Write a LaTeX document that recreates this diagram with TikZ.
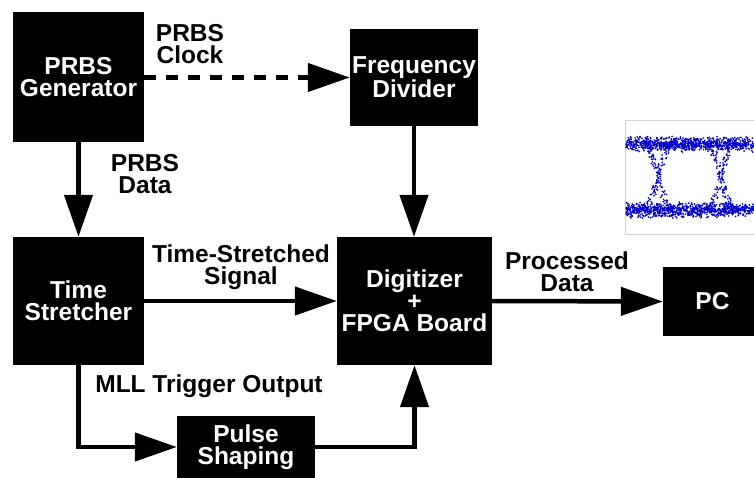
\documentclass[tikz,border=0pt]{standalone}
\usepackage{fontspec}
\setmainfont{Liberation Sans}
\usetikzlibrary{arrows.meta}
\begin{document}
\begin{tikzpicture}[x=1pt,y=-1pt,
  blk/.style={fill=black, text=white, inner sep=0pt, align=center,
    font=\bfseries\fontsize{24.5}{22}\selectfont},
  lbl/.style={align=center, inner sep=0pt,
    font=\bfseries\fontsize{24.5}{22}\selectfont},
  conn/.style={line width=4.5pt, -{Triangle[length=42pt,width=28pt]}},
  dotc/.style={fill=blue!80!black},
]
\useasboundingbox (0,0) rectangle (754,478);
\fill[white] (0,0) rectangle (754,478);

% eye diagram
\draw[gray!35, line width=0.6pt] (754,120) -- (625,120) -- (625,234) -- (754,234);
\pgfmathsetseed{7}
\foreach \i in {1,...,1700}{
  \pgfmathsetmacro\ex{626+128*rnd}
  \pgfmathsetmacro\ey{(rnd<0.5 ? 144 : 210) + 4.2*(rand+rand)}
  \fill[dotc] (\ex,\ey) circle (0.95pt);
}
\foreach \c in {658,721}{
  \foreach \s in {1,-1}{
    \foreach \i in {1,...,110}{
      \pgfmathsetmacro\t{rand}
      \pgfmathsetmacro\ex{\c+14*\t+3*rand}
      \pgfmathsetmacro\ey{177+\s*33*sin(90*\t)+3*rand}
      \fill[dotc] (\ex,\ey) circle (0.95pt);
    }
  }
}

% blocks
\node[blk, minimum width=131pt, minimum height=130pt] (gen) at (78.5,77) {PRBS\\Generator};
\node[blk, minimum width=128pt, minimum height=97pt] (fdiv) at (414,77.5) {Frequency\\Divider};
\node[blk, minimum width=131pt, minimum height=128pt] (ts) at (78.5,301) {Time\\Stretcher};
\node[blk, minimum width=155pt, minimum height=128pt] (dig) at (414.5,301) {Digitizer\\+\\FPGA Board};
\node[blk, minimum width=99pt, minimum height=69pt] (pc) at (712.5,301.5) {PC};
\node[blk, minimum width=138pt, minimum height=62pt] (ps) at (246,447) {Pulse\\Shaping};

% labels
\node[lbl] (lclk) at (190,44) {PRBS\\Clock};
\node[lbl] (ldat) at (145,174) {PRBS\\Data};
\node[lbl] (lts) at (241,267) {Time-Stretched\\Signal};
\node[lbl] (lpd) at (567,272) {Processed\\Data};
\node[lbl] (lmll) at (209,386) {MLL Trigger Output};

% connectors
\draw[conn, dash pattern=on 12pt off 10pt] (gen.east |- fdiv.west) -- (fdiv.west);
\draw[conn] (gen.south) -- (ts.north);
\draw[conn] (fdiv.south) -- (fdiv.south |- dig.north);
\draw[conn] (ts.east) -- (dig.west);
\draw[conn] (dig.east) -- (pc.west);
\draw[conn] (ts.south) |- (ps.west);
\draw[conn] (ps.east) -| (dig.south);
\end{tikzpicture}
\end{document}
